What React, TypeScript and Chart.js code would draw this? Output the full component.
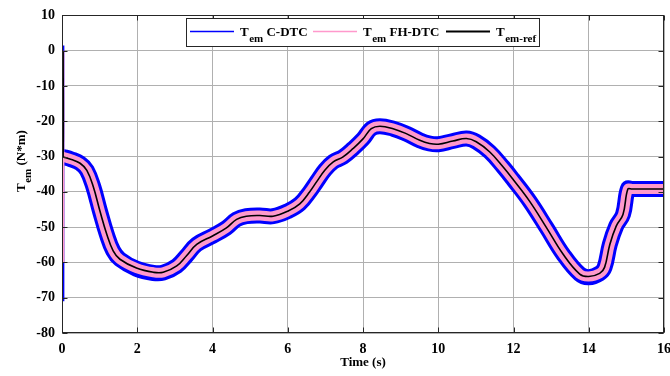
import React, { useEffect, useRef } from "react";
import { Chart, registerables } from "chart.js";

Chart.register(...registerables);

// ---- data ----
const timeS = [
  0, 0.25, 0.48, 0.66, 0.83, 1.01, 1.19, 1.36, 1.54, 1.98, 2.43, 2.69, 3.05, 3.31, 3.58,
  4.0, 4.37, 4.64, 4.9, 5.26, 5.61, 6.0, 6.32, 6.59, 6.77, 6.99, 7.21, 7.47, 7.74, 8.0,
  8.22, 8.45, 8.8, 9.15, 9.51, 9.77, 10.0, 10.39, 10.75, 11.01, 11.37, 11.72, 11.99,
  12.43, 12.88, 13.32, 13.76, 14.0, 14.29, 14.42, 14.56, 14.73, 14.91, 15.04, 15.15, 16.0,
];
const refTorque = [
  -30, -30.8, -31.9, -33.9, -38.5, -45.5, -52, -56.7, -59.1, -61.6, -62.8, -62.8, -61, -58.1, -54.9,
  -52.5, -50.2, -47.8, -46.9, -46.7, -46.9, -45.5, -43.4, -39.9, -37.1, -33.8, -31.5, -30.1, -27.7, -25,
  -22.1, -21.4, -22.1, -23.5, -25.4, -26.3, -26.5, -25.6, -24.9, -25.8, -28.7, -32.9, -36.5,
  -42.7, -50.2, -57.7, -63.3, -64.0, -63.1, -61.4, -54.9, -49.7, -46.4, -39.2, -39.2, -39.2,
];
const fhdtcTorque = [
  -30, -30.8, -31.9, -33.9, -38.5, -45.5, -52, -56.7, -59.1, -61.6, -62.8, -62.8, -61, -58.1, -54.9,
  -52.5, -50.2, -47.8, -46.9, -46.7, -46.9, -45.5, -43.4, -39.9, -37.1, -33.8, -31.5, -30.1, -27.7, -25,
  -22.1, -21.4, -22.1, -23.5, -25.4, -26.3, -26.5, -25.6, -24.9, -25.8, -28.7, -32.9, -36.5,
  -42.7, -50.2, -57.7, -63.3, -64.0, -63.1, -61.4, -54.9, -49.7, -46.4, -39.2, -39.2, -39.2,
];
const cdtcTorque = [
  -30, -30.8, -31.9, -33.9, -38.5, -45.5, -52, -56.7, -59.1, -61.8, -63.0, -62.9, -61, -58.1, -54.9,
  -52.5, -50.2, -47.8, -46.9, -46.7, -46.9, -45.5, -43.4, -39.9, -37.1, -33.8, -31.5, -30.1, -27.7, -25,
  -22.1, -21.4, -22.1, -23.5, -25.4, -26.3, -26.5, -25.6, -24.9, -25.8, -28.7, -32.9, -36.5,
  -42.7, -50.2, -57.7, -63.3, -64.2, -63.1, -61.4, -54.9, -49.7, -46.4, -39.2, -39.2, -39.2,
];
// start-up transients at t ≈ 0
const startTime = [0.03, 0.03];
const refStart = [0, -30];
const fhdtcStart = [0, -60];
const cdtcStart = [1.5, -71];

const xTicksMax = 16;
const yMin = -80;
const yMax = 10;

const FONT = '"Liberation Serif", "Times New Roman", serif';
const GRID = "#b0b0b0";
const BLUE = "#0000ff";
const PINK = "#ff99cc";

const pts = (xs: number[], ys: number[]) => xs.map((x, i) => ({ x, y: ys[i] }));

const framePlugin = {
  id: "frame",
  afterDatasetsDraw(chart: any) {
    const { ctx, chartArea, scales } = chart;
    const l = Math.round(chartArea.left) + 0.5;
    const r = Math.round(chartArea.right) - 0.5;
    const t = Math.round(chartArea.top) + 0.5;
    const b = Math.round(chartArea.bottom) - 0.5;
    ctx.save();
    ctx.strokeStyle = "#262626";
    ctx.lineWidth = 1;
    const tl = 5;
    ctx.beginPath();
    scales.x.ticks.forEach((tk: any) => {
      const px = Math.round(scales.x.getPixelForValue(tk.value)) + 0.5;
      ctx.moveTo(px, b);
      ctx.lineTo(px, b - tl);
      ctx.moveTo(px, t);
      ctx.lineTo(px, t + tl);
    });
    scales.y.ticks.forEach((tk: any) => {
      const py = Math.round(scales.y.getPixelForValue(tk.value)) + 0.5;
      ctx.moveTo(l, py);
      ctx.lineTo(l + tl, py);
      ctx.moveTo(r, py);
      ctx.lineTo(r - tl, py);
    });
    ctx.stroke();
    ctx.strokeRect(l, t, r - l, b - t);
    ctx.restore();
  },
};

function drawLegendItem(ctx: CanvasRenderingContext2D, x: number, color: string, lw: number, sub: string, rest: string) {
  const ly = 31.5;
  ctx.strokeStyle = color;
  ctx.lineWidth = lw;
  ctx.beginPath();
  ctx.moveTo(x, ly);
  ctx.lineTo(x + 44, ly);
  ctx.stroke();
  let tx = x + 50;
  ctx.fillStyle = "#000";
  ctx.textBaseline = "alphabetic";
  ctx.textAlign = "left";
  ctx.font = `bold 13px ${FONT}`;
  ctx.fillText("T", tx, 36);
  tx += ctx.measureText("T").width + 0.5;
  ctx.font = `bold 11px ${FONT}`;
  ctx.fillText(sub, tx, 42);
  tx += ctx.measureText(sub).width;
  if (rest) {
    ctx.font = `bold 13px ${FONT}`;
    ctx.fillText(rest, tx, 36);
  }
}

const overlayPlugin = {
  id: "overlay",
  afterDraw(chart: any) {
    const { ctx } = chart;
    ctx.save();
    // legend box
    ctx.fillStyle = "#fff";
    ctx.fillRect(186.5, 18.5, 353, 28);
    ctx.strokeStyle = "#262626";
    ctx.lineWidth = 1;
    ctx.strokeRect(186.5, 18.5, 353, 28);
    drawLegendItem(ctx, 190, BLUE, 1.5, "em", " C-DTC");
    drawLegendItem(ctx, 313, PINK, 1.5, "em", " FH-DTC");
    drawLegendItem(ctx, 446, "#000", 2, "em-ref", "");

    // y axis title with subscript
    ctx.translate(25, 192);
    ctx.rotate(-Math.PI / 2);
    ctx.fillStyle = "#000";
    ctx.textAlign = "left";
    ctx.textBaseline = "alphabetic";
    ctx.font = `bold 13px ${FONT}`;
    ctx.fillText("T", 0, 0);
    let tx = ctx.measureText("T").width + 0.5;
    ctx.font = `bold 11px ${FONT}`;
    ctx.fillText("em", tx, 6);
    tx += ctx.measureText("em").width;
    ctx.font = `bold 13px ${FONT}`;
    ctx.fillText(" (N*m)", tx, 0);
    ctx.restore();
  },
};

export default function App() {
  const ref = useRef<HTMLCanvasElement>(null);
  useEffect(() => {
    document.body.style.margin = "0";
    const canvas = ref.current!;
    const common = {
      pointRadius: 0,
      pointHoverRadius: 0,
      fill: false,
      tension: 0.4,
      borderJoinStyle: "round" as const,
      borderCapStyle: "butt" as const,
    };
    const chart = new Chart(canvas, {
      type: "line",
      data: {
        datasets: [
          { ...common, label: "Tem-ref", data: [...pts(startTime, refStart), ...pts(timeS, refTorque)], borderColor: "#000", borderWidth: 1.6, order: 0 },
          { ...common, label: "FH start", data: pts(startTime, fhdtcStart), borderColor: PINK, borderWidth: 2.5, order: 1 },
          { ...common, label: "Tem FH-DTC", data: pts(timeS, fhdtcTorque), borderColor: PINK, borderWidth: 10, order: 2 },
          { ...common, label: "C start", data: pts(startTime, cdtcStart), borderColor: BLUE, borderWidth: 2.5, order: 3 },
          { ...common, label: "Tem C-DTC", data: pts(timeS, cdtcTorque), borderColor: BLUE, borderWidth: 16, order: 4 },
        ],
      },
      options: {
        animation: false,
        responsive: false,
        devicePixelRatio: 1,
        events: [],
        layout: { padding: { top: 13, right: 6, left: 0, bottom: 0 } },
        plugins: { legend: { display: false }, tooltip: { enabled: false } },
        scales: {
          x: {
            type: "linear",
            min: 0,
            max: xTicksMax,
            border: { display: false },
            grid: { color: GRID, lineWidth: 1, drawTicks: false },
            ticks: { stepSize: 2, color: "#000", padding: 8, maxRotation: 0, font: { family: FONT, size: 14, weight: "bold" } },
            title: { display: true, text: "Time (s)", color: "#000", font: { family: FONT, size: 13, weight: "bold" }, padding: { top: 0, bottom: 6 } },
            afterFit: (s: any) => {
              s.height = 43;
              s.paddingLeft = 0;
              s.paddingRight = 0;
            },
          },
          y: {
            type: "linear",
            min: yMin,
            max: yMax,
            border: { display: false },
            grid: { color: GRID, lineWidth: 1, drawTicks: false },
            ticks: { stepSize: 10, color: "#000", padding: 7, font: { family: FONT, size: 14, weight: "bold" } },
            afterFit: (s: any) => {
              s.width = 62;
            },
          },
        },
      },
      plugins: [framePlugin, overlayPlugin],
    } as any);
    return () => chart.destroy();
  }, []);
  return (
    <div style={{ position: "fixed", left: 0, top: 0, width: 670, height: 376, background: "#fff" }}>
      <canvas ref={ref} width={670} height={376} />
    </div>
  );
}
